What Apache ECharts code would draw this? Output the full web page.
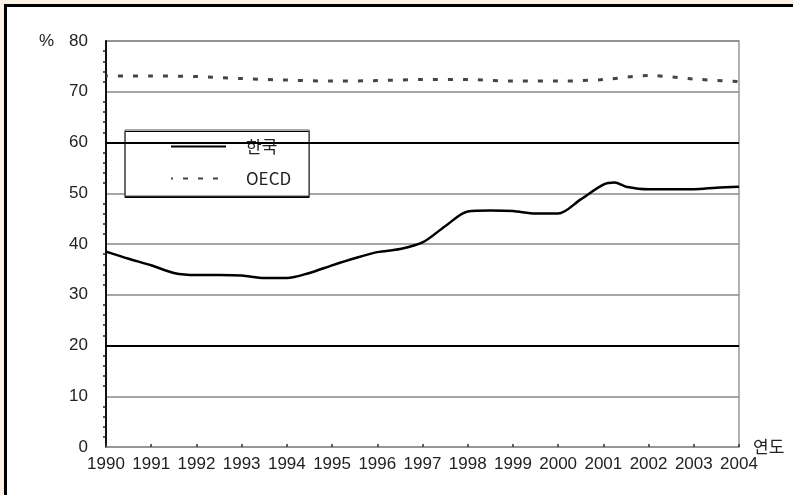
<!DOCTYPE html>
<html>
<head>
<meta charset="utf-8">
<script src="https://cdn.jsdelivr.net/npm/echarts@6/dist/echarts.min.js"></script>
<style>
  html, body { margin: 0; padding: 0; background: #fcf3e4; overflow: hidden; }
  #chart { width: 793px; height: 495px; }
</style>
</head>
<body>
<div id="chart"></div>
<script>
// ---- data ----
const years = [1990, 1991, 1992, 1993, 1994, 1995, 1996, 1997, 1998, 1999, 2000, 2001, 2002, 2003, 2004];
const koreaYears = [1990, 1990.5, 1991, 1991.5, 1992, 1992.5, 1993, 1993.5, 1994, 1994.5,
                    1995, 1995.5, 1996, 1996.5, 1997, 1997.5, 1998, 1998.5, 1999, 1999.5,
                    2000, 2000.5, 2001, 2001.25, 2001.5, 2002, 2002.5, 2003, 2003.5, 2004];
const koreaValues = [38.5, 37.1, 35.8, 34.3, 33.9, 33.9, 33.8, 33.3, 33.3, 34.3,
                     35.8, 37.2, 38.4, 39.0, 40.3, 43.5, 46.4, 46.6, 46.5, 46.0,
                     46.0, 48.8, 51.7, 52.1, 51.3, 50.8, 50.8, 50.8, 51.1, 51.3];
const oecdValues = [73.1, 73.1, 73.0, 72.6, 72.3, 72.1, 72.2, 72.4, 72.4, 72.1, 72.1, 72.4, 73.2, 72.5, 72.0];
const yTicks = [0, 10, 20, 30, 40, 50, 60, 70, 80];
const thickLines = [20, 60];
const seriesNames = ['한국', 'OECD'];

const font = '"Liberation Sans", Arial, sans-serif';
const kfont = '"Noto Sans CJK KR", "Liberation Sans", sans-serif';

const chart = echarts.init(document.getElementById('chart'), null, { renderer: 'canvas' });
chart.setOption({
  backgroundColor: '#fcf3e4',
  animation: false,
  graphic: [
    { type: 'rect', z: -100, shape: { x: 5.5, y: 5.5, width: 1000, height: 700 },
      style: { fill: '#ffffff', lineWidth: 0 } },
    { type: 'polyline', z: -99, shape: { points: [[5.5, 700], [5.5, 5.5], [1000, 5.5]] },
      style: { fill: null, stroke: '#000000', lineWidth: 3 } },
    { type: 'text', left: 39, top: 33, z: 10,
      style: { text: '%', fill: '#222', font: '17px "Liberation Sans", Arial, sans-serif' } }
  ],
  grid: { left: 106, right: 54, top: 41, bottom: 48, show: true, borderColor: '#999', borderWidth: 1.5, backgroundColor: 'transparent' },
  legend: {
    orient: 'vertical',
    left: 125, top: 130,
    padding: [8, 18, 9, 45],
    itemWidth: 55, itemHeight: 14, itemGap: 15,
    backgroundColor: '#ffffff',
    borderColor: '#555', borderWidth: 1,
    shadowColor: '#000', shadowOffsetY: 1.5, shadowBlur: 0,
    itemStyle: { opacity: 0, borderWidth: 0 },
    textStyle: { fontSize: 17, color: '#222', fontFamily: kfont, padding: [0, 0, 0, 15] },
    data: seriesNames
  },
  xAxis: {
    type: 'value', min: years[0], max: years[years.length - 1], interval: 1,
    name: '연도', nameLocation: 'end', nameGap: 14,
    nameTextStyle: { fontSize: 17, color: '#222', fontFamily: kfont, verticalAlign: 'middle' },
    axisLine: { show: true, lineStyle: { color: '#999', width: 1.5 } },
    axisTick: { show: true, inside: true, length: 3, lineStyle: { color: '#333', width: 1.5 } },
    splitLine: { show: false },
    axisLabel: { fontSize: 17, color: '#222', fontFamily: font, margin: 9, formatter: v => String(v) }
  },
  yAxis: {
    type: 'value', min: yTicks[0], max: yTicks[yTicks.length - 1], interval: 10,
    axisLine: { show: true, lineStyle: { color: '#111', width: 2 } },
    axisTick: { show: false },
    minorTick: { show: true, splitNumber: 5, length: 3, lineStyle: { color: '#222', width: 1.5 } },
    splitLine: { show: true, lineStyle: { color: '#888', width: 1.5 } },
    axisLabel: { fontSize: 17, color: '#222', fontFamily: font, margin: 18 }
  },
  series: [
    {
      name: seriesNames[0], type: 'line', symbol: 'none', smooth: 0.3,
      data: koreaYears.map((y, i) => [y, koreaValues[i]]),
      lineStyle: { color: '#000', width: 2.5 },
      itemStyle: { color: '#000' },
      z: 5,
      markLine: {
        silent: true, symbol: 'none', label: { show: false },
        lineStyle: { color: '#000', width: 2.2, type: 'solid' },
        data: thickLines.map(v => ({ yAxis: v }))
      }
    },
    {
      name: seriesNames[1], type: 'line', symbol: 'none', smooth: 0.3,
      data: years.map((y, i) => [y, oecdValues[i]]),
      lineStyle: { color: '#444', width: 3, type: [5, 10], dashOffset: -12 },
      itemStyle: { color: '#444' },
      z: 5
    }
  ]
});
</script>
</body>
</html>
